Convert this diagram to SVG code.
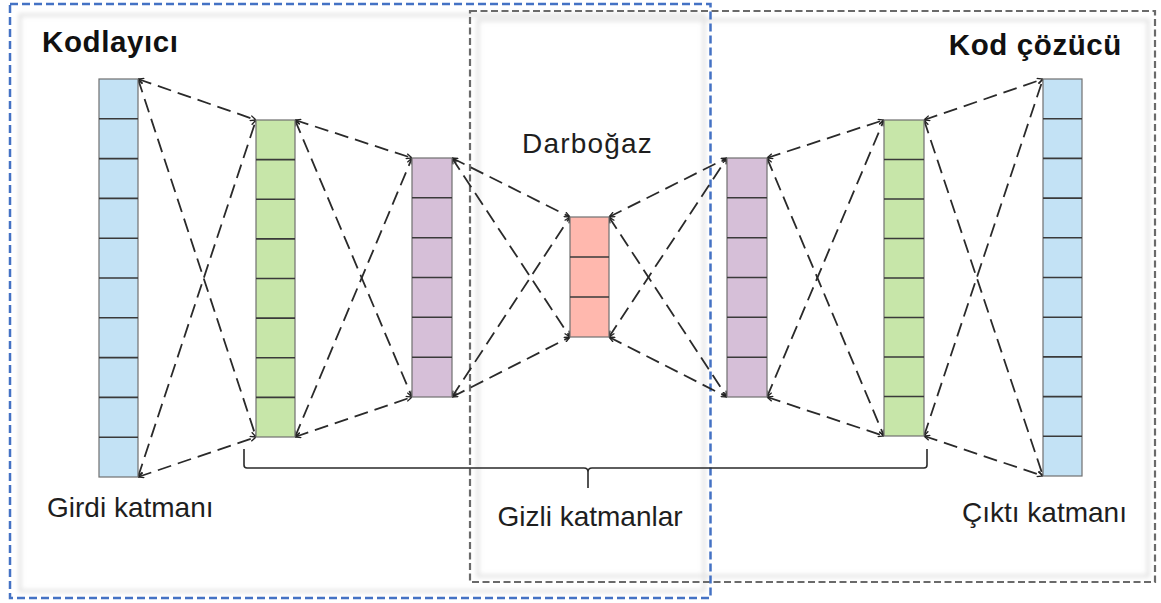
<svg xmlns="http://www.w3.org/2000/svg" width="1161" height="603" viewBox="0 0 1161 603">
<style>
.t{font-family:"Liberation Sans",Arial,sans-serif;fill:#1e1e1e;font-size:28px}
.b{font-weight:bold;font-size:29.5px;fill:#111;letter-spacing:0.6px}
.c{stroke:#2a2a2a;stroke-width:1.8;stroke-dasharray:14 7;fill:none;marker-start:url(#ah);marker-end:url(#ah)}
.cell{stroke:#707070;stroke-width:1.2}
.div{stroke:#3a3a3a;stroke-width:1.6}
.blue{fill:#c3e2f5}.green{fill:#c7e6a9}.purple{fill:#d6bfd8}.red{fill:#ffb8ae}
</style>
<defs>
<marker id="ah" viewBox="0 0 10 10" refX="10" refY="5" markerWidth="6.5" markerHeight="6.5" markerUnits="userSpaceOnUse" orient="auto-start-reverse">
<path d="M1,1 L10,5 L1,9" fill="none" stroke="#222" stroke-width="2"/>
</marker>
<filter id="blur" x="-5%" y="-5%" width="110%" height="110%"><feGaussianBlur stdDeviation="2"/></filter>
</defs>
<rect width="1161" height="603" fill="#fff"/>
<g id="shadows" filter="url(#blur)" fill="none" stroke="#e2e2e2" stroke-width="3">
<rect x="20" y="15" width="684" height="576"/>
<rect x="478" y="20" width="670" height="556"/>
</g>
<g id="decoder-box">
<rect x="470" y="11" width="685" height="571" fill="none" stroke="#6a6a6a" stroke-width="2.2" stroke-dasharray="7 3.5"/>
</g>
<g id="encoder-box">
<rect x="10" y="4" width="700.5" height="594" fill="none" stroke="#4472c4" stroke-width="2.5" stroke-dasharray="8 4"/>
</g>
<g id="connectors">
<line class="c" x1="138" y1="79" x2="256" y2="120"/>
<line class="c" x1="138" y1="477" x2="256" y2="437"/>
<line class="c" x1="138" y1="79" x2="256" y2="437"/>
<line class="c" x1="138" y1="477" x2="256" y2="120"/>
<line class="c" x1="295" y1="120" x2="412" y2="158"/>
<line class="c" x1="295" y1="437" x2="412" y2="397"/>
<line class="c" x1="295" y1="120" x2="412" y2="397"/>
<line class="c" x1="295" y1="437" x2="412" y2="158"/>
<line class="c" x1="452" y1="158" x2="570" y2="217"/>
<line class="c" x1="452" y1="397" x2="570" y2="337"/>
<line class="c" x1="452" y1="158" x2="570" y2="337"/>
<line class="c" x1="452" y1="397" x2="570" y2="217"/>
<line class="c" x1="609" y1="217" x2="727" y2="158"/>
<line class="c" x1="609" y1="337" x2="727" y2="397"/>
<line class="c" x1="609" y1="217" x2="727" y2="397"/>
<line class="c" x1="609" y1="337" x2="727" y2="158"/>
<line class="c" x1="767" y1="158" x2="884" y2="120"/>
<line class="c" x1="767" y1="397" x2="884" y2="436"/>
<line class="c" x1="767" y1="158" x2="884" y2="436"/>
<line class="c" x1="767" y1="397" x2="884" y2="120"/>
<line class="c" x1="924" y1="120" x2="1043" y2="79"/>
<line class="c" x1="924" y1="436" x2="1043" y2="476"/>
<line class="c" x1="924" y1="120" x2="1043" y2="476"/>
<line class="c" x1="924" y1="436" x2="1043" y2="79"/>
</g>
<g id="input-layer">
<rect class="cell blue" x="99" y="79" width="39" height="398"/>
<path class="div" d="M99,118.8H138M99,158.6H138M99,198.4H138M99,238.2H138M99,278H138M99,317.8H138M99,357.6H138M99,397.4H138M99,437.2H138"/>
</g>
<g id="hidden-1">
<rect class="cell green" x="256" y="120" width="39" height="317"/>
<path class="div" d="M256,159.6H295M256,199.3H295M256,238.9H295M256,278.5H295M256,318.1H295M256,357.8H295M256,397.4H295"/>
</g>
<g id="hidden-2">
<rect class="cell purple" x="412" y="158" width="40" height="239"/>
<path class="div" d="M412,197.8H452M412,237.7H452M412,277.5H452M412,317.3H452M412,357.2H452"/>
</g>
<g id="bottleneck">
<rect class="cell red" x="570" y="217" width="39" height="120"/>
<path class="div" d="M570,257H609M570,297H609"/>
</g>
<g id="hidden-3">
<rect class="cell purple" x="727" y="158" width="40" height="239"/>
<path class="div" d="M727,197.8H767M727,237.7H767M727,277.5H767M727,317.3H767M727,357.2H767"/>
</g>
<g id="hidden-4">
<rect class="cell green" x="884" y="120" width="40" height="316"/>
<path class="div" d="M884,159.5H924M884,199H924M884,238.5H924M884,278H924M884,317.5H924M884,357H924M884,396.5H924"/>
</g>
<g id="output-layer">
<rect class="cell blue" x="1043" y="79" width="39" height="397"/>
<path class="div" d="M1043,118.7H1082M1043,158.4H1082M1043,198.1H1082M1043,237.8H1082M1043,277.5H1082M1043,317.2H1082M1043,356.9H1082M1043,396.6H1082M1043,436.3H1082"/>
</g>
<g id="brace">
<path d="M244,449V465Q244,468 247,468H584Q588,468 588,472V488M588,472Q588,468 592,468H924Q927,468 927,465V449" fill="none" stroke="#2a2a2a" stroke-width="1.6"/>
</g>
<g id="labels">
<text class="t b" x="42" y="52">Kodlayıcı</text>
<text class="t b" x="1122" y="55" text-anchor="end">Kod çözücü</text>
<text class="t" x="587.5" y="153" text-anchor="middle" style="letter-spacing:1.2px">Darboğaz</text>
<text class="t" x="47" y="517">Girdi katmanı</text>
<text class="t" x="590" y="526" text-anchor="middle">Gizli katmanlar</text>
<text class="t" x="962" y="522">Çıktı katmanı</text>
</g>
</svg>
